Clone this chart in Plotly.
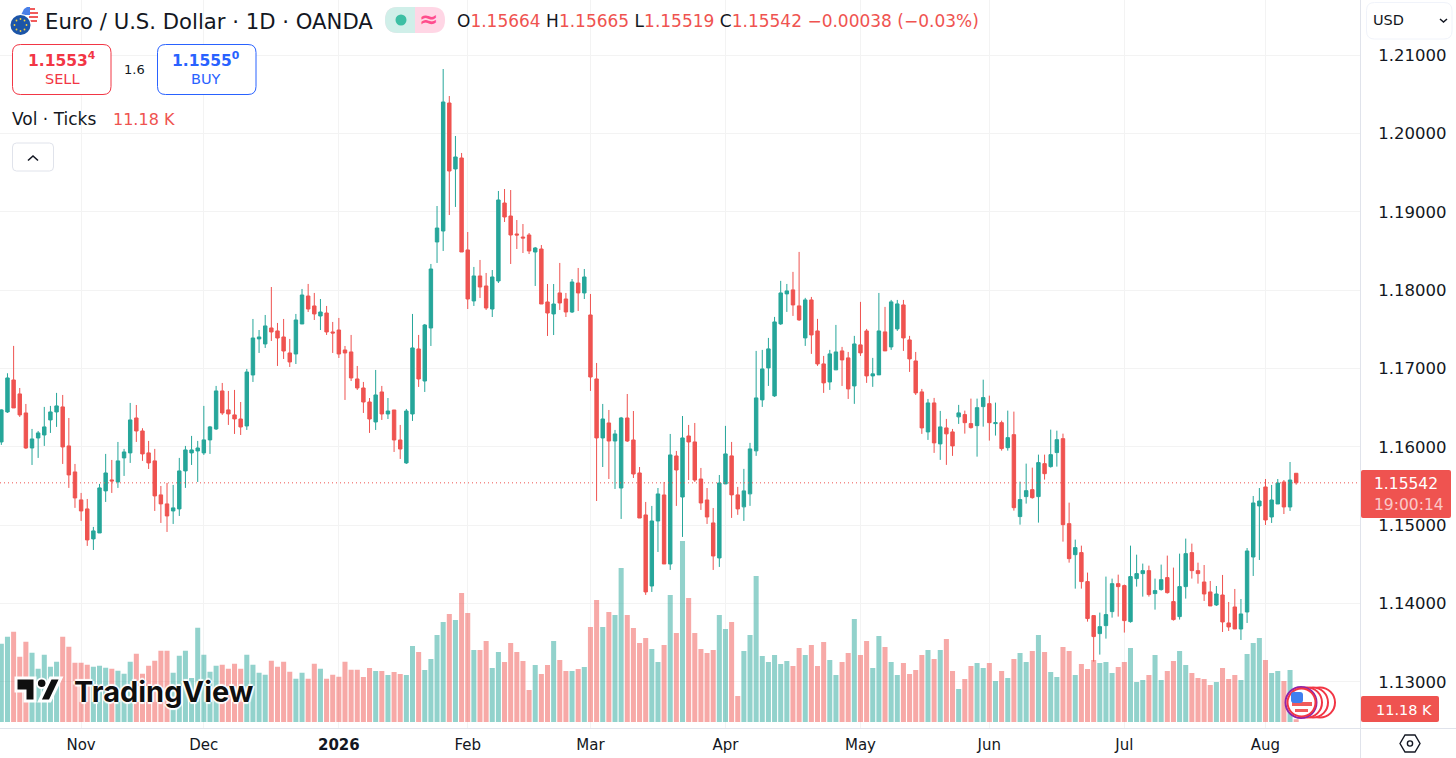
import plotly.graph_objects as go

opens = [1.16064,1.16447,1.16855,1.16677,1.16434,1.15987,1.16115,1.16153,1.16345,1.16447,
1.16511,1.16013,1.15681,1.15324,1.15209,1.14826,1.14902,1.15439,1.15579,1.15553,
1.15860,1.15924,1.16370,1.16204,1.15924,1.15822,1.15388,1.15273,1.15183,1.15209,
1.15694,1.15924,1.15949,1.15924,1.16090,1.16230,1.16715,1.16473,1.16409,1.16357,
1.16268,1.16919,1.17379,1.17315,1.17519,1.17481,1.17404,1.17200,1.17187,1.17570,
1.17927,1.17800,1.17672,1.17710,1.17468,1.17493,1.17238,1.17213,1.16868,1.16753,
1.16574,1.16319,1.16702,1.16421,1.16472,1.16089,1.15796,1.16421,1.17251,1.16842,
1.17519,1.18617,1.18757,1.20391,1.19549,1.19689,1.18515,1.17864,1.18183,1.18055,
1.17761,1.18119,1.19114,1.18948,1.18719,1.18680,1.18706,1.18489,1.18527,1.17851,
1.17698,1.17966,1.17889,1.17723,1.18093,1.17966,1.17685,1.16868,1.16115,1.16306,
1.16076,1.15476,1.16370,1.16089,1.15668,1.15132,1.14225,1.15055,1.15387,1.14506,
1.15885,1.15361,1.16140,1.16064,1.15591,1.15323,1.15030,1.14583,1.15528,1.15886,
1.15388,1.15235,1.15401,1.15950,1.16601,1.17009,1.16652,1.17571,1.17954,1.18005,
1.17801,1.17392,1.17877,1.17481,1.17060,1.16830,1.16984,1.17226,1.17137,1.16779,
1.17303,1.17481,1.16907,1.16920,1.17469,1.17277,1.17507,1.17813,1.17366,1.17098,
1.16703,1.16192,1.16562,1.16039,1.16243,1.16192,1.16384,1.16413,1.16298,1.16272,
1.16515,1.16553,1.16298,1.16310,1.15991,1.16157,1.15111,1.15366,1.15455,1.15366,
1.15787,1.15749,1.15928,1.16106,1.15021,1.14625,1.14651,1.14281,1.13847,1.13617,
1.13719,1.13898,1.14255,1.14230,1.13770,1.14319,1.14383,1.14421,1.14128,1.14179,
1.14332,1.14026,1.13834,1.14217,1.14651,1.14421,1.14276,1.14149,1.13983,1.14110,
1.13753,1.13957,1.13676,1.13893,1.14595,1.15247,1.15489,1.15106,1.15272,1.15553,
1.15234,1.15664]
highs = [1.16481,1.16941,1.17290,1.16753,1.16549,1.16230,1.16204,1.16511,1.16524,1.16690,
1.16664,1.16370,1.15783,1.15413,1.15336,1.14979,1.15528,1.15911,1.15834,1.16064,
1.15975,1.16562,1.16536,1.16239,1.16077,1.15975,1.15502,1.15541,1.15515,1.15860,
1.16013,1.16141,1.16077,1.16524,1.16268,1.16779,1.16817,1.16715,1.16728,1.16574,
1.16996,1.17634,1.17493,1.17685,1.18042,1.17583,1.17634,1.17379,1.17698,1.18017,
1.18081,1.17966,1.17889,1.17800,1.17596,1.17647,1.17289,1.17430,1.17034,1.16830,
1.16625,1.16983,1.16779,1.16625,1.16472,1.16281,1.16485,1.17698,1.17430,1.17570,
1.18336,1.19076,1.20825,1.20480,1.19970,1.19753,1.18744,1.18298,1.18387,1.18221,
1.18259,1.19268,1.19293,1.19280,1.18897,1.18846,1.18731,1.18553,1.18578,1.18080,
1.18080,1.18349,1.17966,1.18144,1.18285,1.18272,1.17953,1.17072,1.16549,1.16472,
1.16217,1.16383,1.16676,1.16459,1.15744,1.15298,1.15247,1.15476,1.15553,1.16166,
1.15949,1.16395,1.16281,1.16306,1.15732,1.15476,1.15221,1.15642,1.16269,1.16064,
1.15490,1.15720,1.16052,1.17226,1.17239,1.17392,1.17660,1.18120,1.18081,1.18235,
1.18490,1.17903,1.17915,1.17635,1.17162,1.17239,1.17558,1.17277,1.17213,1.17418,
1.17852,1.17507,1.17137,1.17966,1.17788,1.17877,1.17877,1.17877,1.17418,1.17213,
1.16741,1.16613,1.16626,1.16460,1.16358,1.16230,1.16537,1.16464,1.16617,1.16617,
1.16859,1.16655,1.16566,1.16336,1.16464,1.16451,1.15557,1.15787,1.15736,1.15902,
1.15902,1.16221,1.16208,1.16170,1.15289,1.14817,1.14740,1.14396,1.13847,1.13885,
1.14345,1.14319,1.14370,1.14243,1.14740,1.14625,1.14511,1.14485,1.14319,1.14498,
1.14613,1.14460,1.14638,1.14830,1.14766,1.14523,1.14493,1.14289,1.14225,1.14366,
1.14021,1.14187,1.14059,1.14710,1.15374,1.15476,1.15591,1.15515,1.15591,1.15578,
1.15808,1.15665]
lows = [1.16026,1.16434,1.16498,1.16383,1.15975,1.15770,1.15860,1.16013,1.16179,1.16256,
1.15783,1.15477,1.15222,1.15056,1.14737,1.14685,1.14902,1.15298,1.15413,1.15477,
1.15630,1.15796,1.16064,1.15822,1.15719,1.15183,1.15030,1.14915,1.15017,1.15119,
1.15477,1.15770,1.15553,1.15898,1.15911,1.16217,1.16409,1.16281,1.16166,1.16153,
1.16217,1.16830,1.17200,1.17264,1.17353,1.17034,1.17123,1.17021,1.17059,1.17570,
1.17723,1.17621,1.17493,1.17430,1.17200,1.17136,1.16600,1.16842,1.16728,1.16434,
1.16179,1.16217,1.16345,1.16357,1.15936,1.15847,1.15783,1.16332,1.16766,1.16702,
1.17289,1.18349,1.18502,1.18961,1.19064,1.18489,1.17761,1.17800,1.17902,1.17749,
1.17659,1.18093,1.18872,1.18336,1.18527,1.18476,1.18463,1.18055,1.17825,1.17417,
1.17429,1.17749,1.17659,1.17710,1.17736,1.17889,1.16715,1.15310,1.15744,1.15591,
1.15464,1.15081,1.16064,1.15604,1.15093,1.14111,1.14149,1.14659,1.14506,1.14430,
1.15247,1.14851,1.15578,1.15553,1.15196,1.15017,1.14430,1.14468,1.15528,1.15094,
1.15133,1.15056,1.15248,1.15886,1.16511,1.16779,1.16639,1.17558,1.17724,1.17673,
1.17609,1.17290,1.17188,1.17035,1.16690,1.16728,1.16984,1.16779,1.16613,1.16550,
1.17162,1.16818,1.16767,1.16920,1.17226,1.17239,1.17481,1.17226,1.16958,1.16664,
1.16167,1.16090,1.15924,1.15835,1.15771,1.15886,1.16294,1.16170,1.16234,1.15876,
1.16259,1.16081,1.16145,1.15953,1.15953,1.15187,1.15008,1.15277,1.15340,1.15034,
1.15583,1.15736,1.15749,1.14791,1.14523,1.14191,1.14191,1.13770,1.13260,1.13349,
1.13553,1.13821,1.13834,1.13630,1.13757,1.14217,1.14089,1.14089,1.13923,1.14166,
1.14128,1.13783,1.13796,1.14064,1.14319,1.14255,1.14034,1.13970,1.13970,1.13638,
1.13651,1.13676,1.13536,1.13753,1.14353,1.14557,1.15004,1.15030,1.15272,1.15144,
1.15183,1.15519]
closes = [1.16473,1.16881,1.16498,1.16409,1.15987,1.16102,1.16179,1.16256,1.16447,1.16524,
1.16000,1.15643,1.15349,1.15183,1.14813,1.14928,1.15477,1.15668,1.15566,1.15822,
1.15936,1.16345,1.16204,1.15911,1.15796,1.15375,1.15273,1.15119,1.15222,1.15694,
1.15962,1.15962,1.15987,1.16090,1.16256,1.16715,1.16434,1.16422,1.16358,1.16255,
1.16957,1.17391,1.17404,1.17545,1.17468,1.17391,1.17225,1.17085,1.17621,1.17940,
1.17761,1.17698,1.17723,1.17468,1.17455,1.17187,1.17200,1.16881,1.16753,1.16574,
1.16357,1.16664,1.16421,1.16459,1.16089,1.15974,1.16459,1.17264,1.16868,1.17557,
1.18272,1.18795,1.20404,1.19523,1.19702,1.18489,1.17889,1.18183,1.18042,1.17774,
1.18170,1.19153,1.18936,1.18706,1.18706,1.18668,1.18502,1.18540,1.17825,1.17710,
1.17825,1.17838,1.17723,1.18106,1.17966,1.18170,1.16893,1.16115,1.16357,1.16076,
1.16166,1.16370,1.16076,1.15655,1.15093,1.14149,1.15055,1.15400,1.14506,1.15898,
1.15706,1.16115,1.16064,1.15578,1.15285,1.15106,1.14608,1.15540,1.15911,1.15388,
1.15209,1.15439,1.15975,1.16626,1.16996,1.17252,1.17596,1.17966,1.17992,1.17813,
1.17622,1.17877,1.17430,1.17060,1.16818,1.17188,1.17213,1.17111,1.16741,1.17315,
1.17201,1.16907,1.16933,1.17481,1.17226,1.17852,1.17826,1.17392,1.17124,1.16690,
1.16243,1.16562,1.16052,1.16256,1.16167,1.16013,1.16435,1.16310,1.16247,1.16502,
1.16630,1.16310,1.16310,1.15979,1.16119,1.15225,1.15328,1.15442,1.15353,1.15800,
1.15659,1.15902,1.16093,1.15008,1.14574,1.14715,1.14281,1.13809,1.13579,1.13706,
1.13860,1.14255,1.14217,1.13783,1.14345,1.14383,1.14421,1.14115,1.14166,1.14306,
1.14140,1.13796,1.14217,1.14638,1.14421,1.14383,1.14123,1.13970,1.14123,1.13766,
1.13702,1.13676,1.13868,1.14672,1.15285,1.15310,1.15068,1.15323,1.15540,1.15234,
1.15578,1.15542]
# volume in thousands of ticks
volumes = [313,341,361,261,321,277,213,269,221,241,341,301,237,237,229,221,225,217,213,205,
193,241,273,193,225,245,285,285,197,265,285,176,377,269,201,225,229,213,233,213,
269,229,197,189,245,221,241,201,173,197,173,233,213,173,189,181,241,209,209,180,
216,204,204,188,200,192,188,304,280,208,252,348,400,432,408,516,436,288,288,324,
216,280,240,316,280,244,128,228,192,228,324,248,204,204,212,220,380,488,380,440,
428,616,428,376,316,336,292,240,308,508,356,724,496,356,292,276,288,428,372,400,
104,284,348,584,264,240,268,232,244,224,296,268,308,224,320,248,188,240,276,412,
268,324,216,344,300,240,188,236,192,208,268,288,252,288,332,204,132,172,224,236,
216,236,164,204,176,252,276,240,284,348,280,200,180,300,284,188,232,212,248,236,
240,196,220,240,296,160,168,188,268,168,204,244,284,228,196,176,172,148,160,216,
172,188,168,272,316,336,248,196,204,164,208,11.18]

month_ticks = [13, 33, 55, 76, 96, 118, 140, 161, 183, 206]
month_labels = ["Nov", "Dec", "<b>2026</b>", "Feb", "Mar", "Apr", "May", "Jun", "Jul", "Aug"]
price_ticks = [1.13, 1.14, 1.15, 1.16, 1.17, 1.18, 1.19, 1.20, 1.21]

W, H = 1456, 758
UP = "#26a69a"
DOWN = "#ef5350"
INK = "#131722"
LINE = "#e0e3eb"
GRID = "#f3f3f3"
FONT = "DejaVu Sans"

x_idx = list(range(len(closes)))


def X(px):
    return px / W


def Y(py):
    return 1 - py / H


def rounded(x0, y0, x1, y1, r):
    pts = [
        f"M{X(x0 + r)},{Y(y0)}", f"L{X(x1 - r)},{Y(y0)}", f"Q{X(x1)},{Y(y0)} {X(x1)},{Y(y0 + r)}",
        f"L{X(x1)},{Y(y1 - r)}", f"Q{X(x1)},{Y(y1)} {X(x1 - r)},{Y(y1)}",
        f"L{X(x0 + r)},{Y(y1)}", f"Q{X(x0)},{Y(y1)} {X(x0)},{Y(y1 - r)}",
        f"L{X(x0)},{Y(y0 + r)}", f"Q{X(x0)},{Y(y0)} {X(x0 + r)},{Y(y0)}", "Z",
    ]
    return " ".join(pts)


def poly(points):
    return "M" + " L".join(f"{X(a)},{Y(b)}" for a, b in points)


shapes = []


def path(d, fill="rgba(0,0,0,0)", line="rgba(0,0,0,0)", width=0):
    shapes.append(dict(type="path", xref="paper", yref="paper", path=d, fillcolor=fill,
                       line=dict(color=line, width=width)))


def circle(cx, cy, r, fill, line="rgba(0,0,0,0)", width=0):
    shapes.append(dict(type="circle", xref="paper", yref="paper", x0=X(cx - r), x1=X(cx + r),
                       y0=Y(cy + r), y1=Y(cy - r), fillcolor=fill, line=dict(color=line, width=width)))


def rect(x0, y0, x1, y1, fill):
    shapes.append(dict(type="rect", xref="paper", yref="paper", x0=X(x0), x1=X(x1), y0=Y(y1), y1=Y(y0),
                       fillcolor=fill, line=dict(width=0)))


annotations = []


def txt(px, py, text, size=16, color=INK, anchor="left", family=FONT, **font):
    annotations.append(dict(x=X(px), y=Y(py), xref="paper", yref="paper", text=text, showarrow=False,
                            xanchor=anchor, yanchor="middle", align=anchor, borderpad=0,
                            font=dict(family=family, size=size, color=color, **font)))


# symbol icons, us flag behind the eu one
circle(29.5, 15.5, 9, "#ffffff")
rect(30, 8, 35, 10, "#f15b5b")
rect(30, 12, 38, 14, "#f15b5b")
rect(29, 16, 38, 18, "#f15b5b")
rect(30, 20, 37, 22, "#f15b5b")
path(poly([(24, 9), (27, 7), (30, 7), (30, 15), (21, 15)]) + " Z", "#4a7fe8")
circle(20.5, 25, 11, "#ffffff")
circle(20.5, 25, 10, "#1c55a8")
for a, b in [(20.5, 19), (24.5, 20.5), (26.5, 25), (24.5, 29.5), (20.5, 31), (16.5, 29.5), (14.5, 25), (16.5, 20.5)]:
    circle(a, b, 0.9, "#f6d13a")

# status pill
path(rounded(385, 7, 445, 33, 13), "#ffd6e5")
path(f"M{X(415)},{Y(7)} L{X(398)},{Y(7)} Q{X(385)},{Y(7)} {X(385)},{Y(20)} "
     f"Q{X(385)},{Y(33)} {X(398)},{Y(33)} L{X(415)},{Y(33)} Z", "#d0efe9")
circle(401, 20, 5.5, "#3dbfa4")
txt(428, 19, "≈", 23, "#ff4d8d", "center", weight=700)

# sell / buy, collapse button, usd box
path(rounded(12.5, 44.5, 111, 94.5, 8), "#ffffff", "#f23645", 1)
path(rounded(157.5, 44.5, 256, 94.5, 8), "#ffffff", "#2962ff", 1)
path(rounded(12.5, 143, 53.5, 171, 4), "#ffffff", LINE, 1)
path(poly([(28, 160.5), (33, 156), (38, 160.5)]), line=INK, width=1.6)
path(rounded(1366.5, 2.5, 1452, 39, 8), "#ffffff", "#f0f3fa", 1)
path(poly([(1440, 19), (1443.5, 22), (1447, 19)]), line=INK, width=1.5)

# dotted last price line, follows the last close
shapes.append(dict(type="line", xref="x domain", yref="y2", x0=0, x1=1, y0=closes[-1], y1=closes[-1],
                   line=dict(color=DOWN, width=1, dash="1px,3px")))
# scale borders
shapes.append(dict(type="line", xref="paper", yref="paper", x0=X(1360.5), x1=X(1360.5), y0=0, y1=1,
                   line=dict(color=LINE, width=1)))
shapes.append(dict(type="line", xref="paper", yref="paper", x0=0, x1=1, y0=Y(728.5), y1=Y(728.5),
                   line=dict(color=LINE, width=1)))

# last price and volume tags
path(rounded(1361, 470, 1451, 518, 2), DOWN)
path(rounded(1361, 696, 1439, 722, 2), DOWN)

# news badge
for cx in (1320, 1313, 1307):
    circle(cx, 702.5, 15, "#ffffff", "#f23645", 2)
circle(1301, 702.5, 15.5, "#ffffff", "#8e24aa", 2)
circle(1301.5, 702.5, 14, "#ffffff", "#f23645", 2)
rect(1292, 702, 1312, 706, "#f15b5b")
rect(1295, 709, 1308, 712, "#f15b5b")
path(rounded(1291, 692, 1303, 703, 3), "#3f7fef")

# tradingview logo
logo_white = dict(line="#ffffff", width=3)
path(poly([(16, 678), (35, 678), (35, 701), (25, 701), (25, 691), (16, 691)]) + " Z", "#0f0f0f", **logo_white)
circle(41.7, 683.3, 4.8, "#0f0f0f", "#ffffff", 2)
path(poly([(50.5, 678), (61, 678), (50, 701), (39.5, 701)]) + " Z", "#0f0f0f", **logo_white)

red = DOWN
ohlc = (f'O<span style="color:{red}">{opens[-1]:.5f}</span> H<span style="color:{red}">{highs[-1]:.5f}</span> '
        f'L<span style="color:{red}">{lows[-1]:.5f}</span> C<span style="color:{red}">{closes[-1]:.5f}</span> '
        f'<span style="color:{red}">−0.00038 (−0.03%)</span>')
txt(44, 21, "Euro / U.S. Dollar · 1D · OANDA", 21.2)
txt(456, 21, ohlc, 17)
txt(62, 59, "1.1553<sup>4</sup>", 15.5, "#f23645", "center", weight=700)
txt(62, 79, "SELL", 14.5, "#f23645", "center")
txt(134, 69.5, "1.6", 13, INK, "center")
txt(206, 59, "1.1555<sup>0</sup>", 15.5, "#2962ff", "center", weight=700)
txt(206, 79, "BUY", 14.5, "#2962ff", "center")
txt(11, 119, "Vol · Ticks", 17)
txt(112, 119, "11.18 K", 16, red)
txt(1372, 20, "USD", 14.5)
txt(1406, 484, f"{closes[-1]:.5f}", 15.5, "#ffffff", "center")
txt(1409, 505, "19:00:14", 15.5, "rgba(255,255,255,0.7)", "center")
txt(1404, 710, "11.18 K", 14.5, "#ffffff", "center")
txt(72.5, 691, "TradingView", 29, "#0f0f0f", family="Inter", weight=700,
    shadow="white 2px 0 1px, white -2px 0 1px, white 0 2px 1px, white 0 -2px 1px")

# settings hexagon under the price scale
path(poly([(1400, 743.5), (1405, 735), (1415, 735), (1420, 743.5), (1415, 752), (1405, 752)]) + " Z",
     line=INK, width=1.4)
circle(1410, 743.5, 2.6, "rgba(0,0,0,0)", INK, 1.4)

vol_colors = ["rgba(38,166,154,0.5)" if c >= o else "rgba(239,83,80,0.5)" for o, c in zip(opens, closes)]

fig = go.Figure()
fig.add_trace(go.Bar(x=x_idx, y=volumes, marker=dict(color=vol_colors, line=dict(width=0)), width=0.82,
                     yaxis="y", hoverinfo="skip"))
fig.add_trace(go.Candlestick(x=x_idx, open=opens, high=highs, low=lows, close=closes, yaxis="y2",
                             whiskerwidth=0, hoverinfo="skip",
                             increasing=dict(line=dict(color=UP, width=1), fillcolor=UP),
                             decreasing=dict(line=dict(color=DOWN, width=1), fillcolor=DOWN)))

fig.update_layout(
    width=W, height=H, margin=dict(l=0, r=0, t=0, b=0), showlegend=False, autosize=False,
    paper_bgcolor="#ffffff", plot_bgcolor="#ffffff", boxgap=0.2,
    font=dict(family=FONT, color=INK),
    shapes=shapes, annotations=annotations,
    xaxis=dict(domain=[0, 1360 / W], range=[-0.217, 221.4], tickmode="array", tickvals=month_ticks,
               ticktext=month_labels, tickfont=dict(size=15, color=INK, family=FONT), showgrid=True, gridcolor=GRID,
               ticks="outside", ticklen=3, tickcolor="rgba(0,0,0,0)", zeroline=False, rangeslider=dict(visible=False),
               fixedrange=True),
    yaxis=dict(domain=[30 / H, 1], range=[-24, 2888], visible=False, fixedrange=True),
    yaxis2=dict(domain=[30 / H, 1], range=[1.12412, 1.21706], overlaying="y", side="right", anchor="x",
                tickmode="array", tickvals=price_ticks, tickformat=".5f", showgrid=True, gridcolor=GRID,
                tickfont=dict(size=16.5, color=INK, family=FONT), ticks="outside", ticklen=14,
                tickcolor="rgba(0,0,0,0)", zeroline=False, fixedrange=True),
)

fig.write_html("out.html", config=dict(displayModeBar=False),
               post_script="document.body.style.margin='0';")
